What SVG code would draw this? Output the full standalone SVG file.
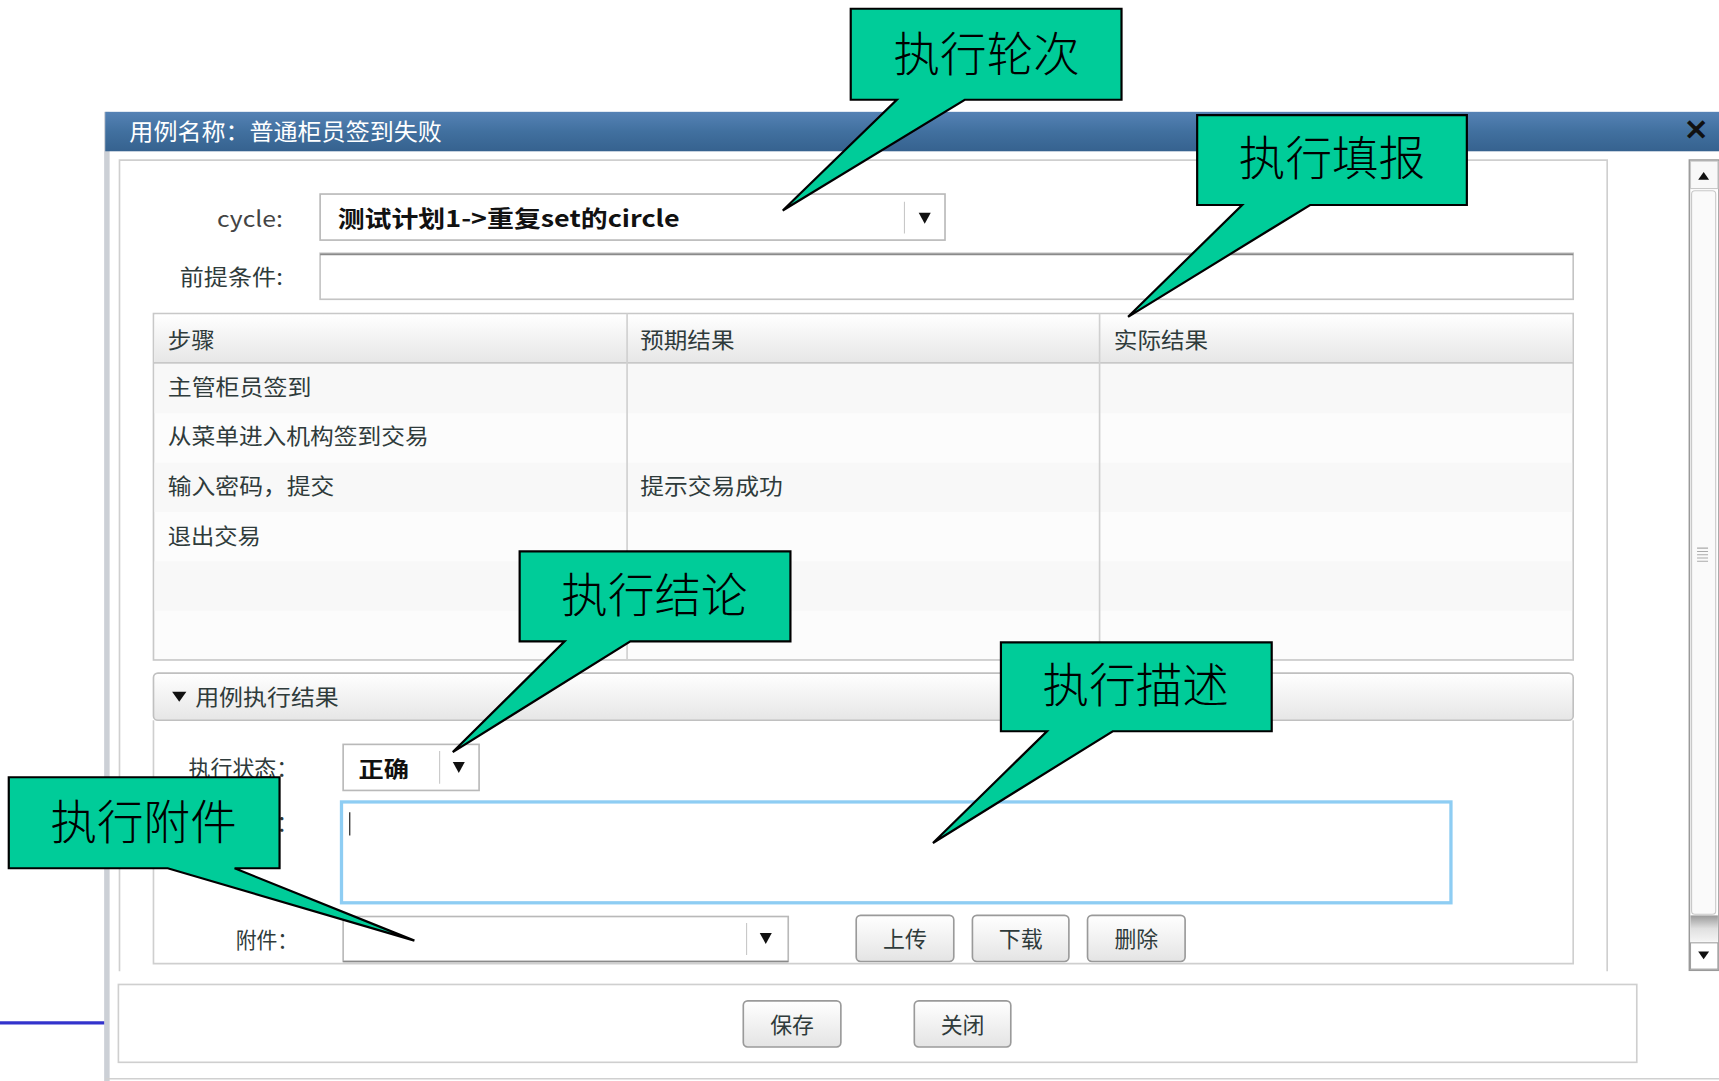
<svg xmlns="http://www.w3.org/2000/svg" width="1719" height="1081" viewBox="0 0 1719 1081">
<defs>
<style>
.ui{font-family:"Noto Sans CJK SC","Liberation Sans",sans-serif;font-size:20px;fill:#2f3b3b}
.b{font-weight:bold;fill:#111}
.co{font-family:"Noto Sans CJK SC",sans-serif;font-size:43px;font-weight:300;fill:#000}
.callout{fill:#00cc99;stroke:#000;stroke-width:2;stroke-linejoin:miter}
.box{fill:#fff;stroke:#b9b9b9;stroke-width:1.5}
.line{stroke:#cfcfcf;stroke-width:1.5;fill:none}
.btn{fill:url(#btnG);stroke:#9a9a9a;stroke-width:1.5}
.tri{fill:#111}
</style>
<linearGradient id="titleG" x1="0" y1="0" x2="0" y2="1">
<stop offset="0" stop-color="#5582b5"/><stop offset="0.5" stop-color="#41709f"/><stop offset="1" stop-color="#36628f"/>
</linearGradient>
<linearGradient id="hdrG" x1="0" y1="0" x2="0" y2="1">
<stop offset="0" stop-color="#ffffff"/><stop offset="1" stop-color="#e6e6e6"/>
</linearGradient>
<linearGradient id="btnG" x1="0" y1="0" x2="0" y2="1">
<stop offset="0" stop-color="#ffffff"/><stop offset="1" stop-color="#e4e4e4"/>
</linearGradient>
<linearGradient id="scrG" x1="0" y1="0" x2="0" y2="1">
<stop offset="0" stop-color="#9a9a9a"/><stop offset="0.5" stop-color="#e0e0e0"/><stop offset="1" stop-color="#f4f4f4"/>
</linearGradient>
</defs>
<rect width="1719" height="1081" fill="#fff"/>
<g transform="scale(1.0963)">
<g id="backline"><line x1="0" y1="933" x2="96" y2="933" stroke="#3333cc" stroke-width="3"/></g>
<g id="dialog">
<rect x="96" y="102" width="1480" height="890" fill="#fff"/>
<rect x="95" y="102" width="5" height="885" fill="#ccd0d6"/>
<line x1="96" y1="984" x2="1568" y2="984" stroke="#d0d0d0" stroke-width="1.5"/>
<rect x="96" y="102" width="1480" height="36" fill="url(#titleG)"/>
<text x="118" y="128" class="ui" style="fill:#fff;font-size:21px" textLength="285" lengthAdjust="spacingAndGlyphs">用例名称：普通柜员签到失败</text>
<text x="1547" y="128" text-anchor="middle" style="font-family:'Liberation Sans',sans-serif;font-size:26px;font-weight:bold;fill:#111">✕</text>
<path d="M109,886 V146 H1466 V886" class="line"/>
<rect x="108" y="898" width="1385" height="71" fill="#fff" stroke="#cfcfcf" stroke-width="1.5"/>
</g>
<g id="scrollbar">
<rect x="1541" y="146" width="27" height="739" fill="#fff" stroke="#9a9a9a" stroke-width="1.5"/>
<rect x="1542" y="147" width="25" height="25" fill="#f8f8f8" stroke="#c8c8c8"/>
<path d="M1549,164 L1559,164 L1554,157 Z" class="tri"/>
<rect x="1543" y="174" width="22" height="660" rx="3" fill="#fafafa" stroke="#c8c8c8"/>
<path d="M1548,500 H1558 M1548,503 H1558 M1548,506 H1558 M1548,509 H1558 M1548,512 H1558" stroke="#aaa" stroke-width="1"/>
<rect x="1542" y="835" width="25" height="24" fill="url(#scrG)"/>
<rect x="1542" y="860" width="25" height="24" fill="#fff" stroke="#a0a0a0"/>
<path d="M1549,868 L1559,868 L1554,875 Z" class="tri"/>
</g>
<g id="cycle">
<text x="258" y="207" class="ui" text-anchor="end" style="fill:#444" textLength="60" lengthAdjust="spacingAndGlyphs">cycle:</text>
<rect x="292" y="177" width="570" height="42" class="box"/>
<text x="308" y="207" class="ui b" style="font-size:21px" textLength="312" lengthAdjust="spacingAndGlyphs">测试计划1-&gt;重复set的circle</text>
<line x1="825" y1="184" x2="825" y2="213" stroke="#c8c8c8"/>
<path d="M838,194 L849,194 L843.5,204 Z" class="tri"/>
</g>
<g id="precondition">
<text x="258" y="260" class="ui" text-anchor="end" textLength="94" lengthAdjust="spacingAndGlyphs">前提条件:</text>
<rect x="292" y="231" width="1143" height="42" fill="#fff" stroke="#c4c4c4" stroke-width="1.5"/>
<line x1="292" y1="232" x2="1435" y2="232" stroke="#8a8a8a" stroke-width="1.5"/>
</g>
<g id="steps-table">
<rect x="140" y="286" width="1295" height="316" fill="#fcfcfc" stroke="#c8c8c8" stroke-width="1.5"/>
<rect x="141" y="287" width="1293" height="44" fill="url(#hdrG)"/>
<line x1="140" y1="331" x2="1435" y2="331" stroke="#c8c8c8" stroke-width="1.5"/>
<rect x="141" y="332" width="1293" height="45" fill="#f8f8f8"/>
<rect x="141" y="422" width="1293" height="45" fill="#f8f8f8"/>
<rect x="141" y="512" width="1293" height="45" fill="#f8f8f8"/>
<line x1="572" y1="286" x2="572" y2="602" stroke="#d0d0d0" stroke-width="1.5"/>
<line x1="1003" y1="286" x2="1003" y2="602" stroke="#d0d0d0" stroke-width="1.5"/>
<text x="153" y="317" class="ui" textLength="43" lengthAdjust="spacingAndGlyphs">步骤</text>
<text x="584" y="317" class="ui" textLength="86" lengthAdjust="spacingAndGlyphs">预期结果</text>
<text x="1016" y="317" class="ui" textLength="86" lengthAdjust="spacingAndGlyphs">实际结果</text>
<text x="153" y="360" class="ui" textLength="131" lengthAdjust="spacingAndGlyphs">主管柜员签到</text>
<text x="153" y="405" class="ui" textLength="238" lengthAdjust="spacingAndGlyphs">从菜单进入机构签到交易</text>
<text x="153" y="451" class="ui" textLength="152" lengthAdjust="spacingAndGlyphs">输入密码，提交</text>
<text x="584" y="451" class="ui" textLength="130" lengthAdjust="spacingAndGlyphs">提示交易成功</text>
<text x="153" y="496" class="ui" textLength="85" lengthAdjust="spacingAndGlyphs">退出交易</text>
</g>
<g id="result-section">
<path d="M140,657 V879 H1435 V657" class="line"/>
<rect x="140" y="614" width="1295" height="43" rx="4" fill="url(#hdrG)" stroke="#c0c0c0" stroke-width="1.5"/>
<path d="M157,631 L170,631 L163.5,640 Z" class="tri"/>
<text x="178" y="643" class="ui" textLength="131" lengthAdjust="spacingAndGlyphs">用例执行结果</text>
<text x="272" y="708" class="ui" text-anchor="end" textLength="100" lengthAdjust="spacingAndGlyphs">执行状态：</text>
<rect x="313" y="679" width="124" height="42" class="box"/>
<text x="327" y="709" class="ui b" textLength="46" lengthAdjust="spacingAndGlyphs">正确</text>
<line x1="401" y1="685" x2="401" y2="715" stroke="#c8c8c8"/>
<path d="M413,695 L424,695 L418.5,705 Z" class="tri"/>
<text x="272" y="758" class="ui" text-anchor="end" textLength="60" lengthAdjust="spacingAndGlyphs">描述：</text>
<rect x="311.5" y="731.5" width="1012" height="92" fill="#fff" stroke="#8ecdf3" stroke-width="3"/>
<line x1="319" y1="741" x2="319" y2="762" stroke="#333" stroke-width="1.2"/>
<text x="272" y="865" class="ui" text-anchor="end" textLength="57" lengthAdjust="spacingAndGlyphs">附件：</text>
<rect x="313" y="836" width="406" height="41" class="box"/>
<line x1="313" y1="877" x2="719" y2="877" stroke="#8a8a8a" stroke-width="1.5"/>
<line x1="681" y1="842" x2="681" y2="871" stroke="#c8c8c8"/>
<path d="M693,851 L704,851 L698.5,861 Z" class="tri"/>
</g>
<g id="btn-upload"><rect x="781" y="835" width="89" height="42" rx="4" class="btn"/><text x="825.5" y="864" class="ui" text-anchor="middle">上传</text></g>
<g id="btn-download"><rect x="887" y="835" width="88" height="42" rx="4" class="btn"/><text x="931" y="864" class="ui" text-anchor="middle">下载</text></g>
<g id="btn-delete"><rect x="992" y="835" width="89" height="42" rx="4" class="btn"/><text x="1036.5" y="864" class="ui" text-anchor="middle">删除</text></g>
<g id="btn-save"><rect x="678" y="913" width="89" height="42" rx="4" class="btn"/><text x="722.5" y="942" class="ui" text-anchor="middle">保存</text></g>
<g id="btn-close"><rect x="834" y="913" width="88" height="42" rx="4" class="btn"/><text x="878" y="942" class="ui" text-anchor="middle">关闭</text></g>
<g id="connectors"></g>
<g id="callout-cycle">
<path class="callout" d="M776,8 H1023 V91 H880 L714,192 L818,91 H776 Z"/>
<text x="900" y="65" class="co" text-anchor="middle" textLength="170" lengthAdjust="spacingAndGlyphs">执行轮次</text>
</g>
<g id="callout-fill">
<path class="callout" d="M1092,105 H1338 V187 H1195 L1029,289 L1133,187 H1092 Z"/>
<text x="1215" y="160" class="co" text-anchor="middle" textLength="170" lengthAdjust="spacingAndGlyphs">执行填报</text>
</g>
<g id="callout-conclusion">
<path class="callout" d="M474,503 H721 V585 H575 L413,686 L515,585 H474 Z"/>
<text x="597" y="558" class="co" text-anchor="middle" textLength="170" lengthAdjust="spacingAndGlyphs">执行结论</text>
</g>
<g id="callout-desc">
<path class="callout" d="M913,586 H1160 V667 H1015 L851,769 L955,667 H913 Z"/>
<text x="1036" y="640" class="co" text-anchor="middle" textLength="170" lengthAdjust="spacingAndGlyphs">执行描述</text>
</g>
<g id="callout-attach">
<path class="callout" d="M8,709 H255 V792 H214 L378,858 L153,792 H8 Z"/>
<text x="131" y="765" class="co" text-anchor="middle" textLength="170" lengthAdjust="spacingAndGlyphs">执行附件</text>
</g>
</g>
</svg>
